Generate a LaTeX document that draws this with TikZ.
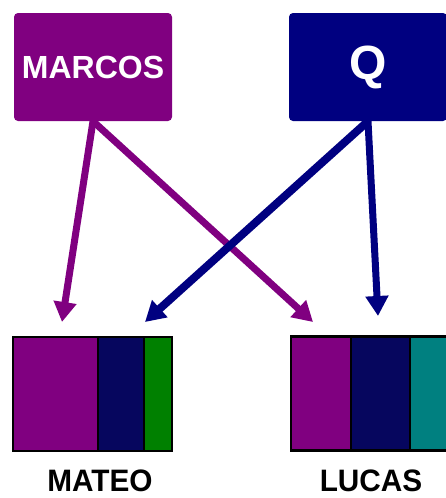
\documentclass[tikz,border=0pt]{standalone}
\usepackage{fontspec}
\setmainfont{Liberation Sans}
\usetikzlibrary{arrows.meta}
\definecolor{cpurple}{HTML}{800080}
\definecolor{cnavy}{HTML}{000080}
\definecolor{cdeep}{HTML}{06065E}
\definecolor{cgreen}{HTML}{008000}
\definecolor{cteal}{HTML}{008080}
\tikzset{
  srcbox/.style={rectangle, rounded corners=4pt, minimum width=158pt, minimum height=108pt, inner sep=0pt, text=white, font=\bfseries},
  link/.style={line width=7pt, -{Triangle[width=22pt,length=20pt]}},
  seg/.style={rectangle, draw=black, line width=2.5pt, inner sep=0pt, minimum height=114pt},
  caption/.style={anchor=base, font=\bfseries\fontsize{31}{36}\selectfont, inner sep=0pt, text depth=0pt, xscale=0.96}
}
\begin{document}
\begin{tikzpicture}[x=1pt, y=-1pt]
\useasboundingbox (0,0) rectangle (446,498);

% source boxes
\node[srcbox, fill=cpurple, font=\bfseries\fontsize{32}{36}\selectfont] (marcos) at (93,67) {MARCOS};
\node[srcbox, fill=cnavy, font=\bfseries\fontsize{48}{50}\selectfont] (q) at (368,67) {Q};

% arrow targets above the bars
\coordinate (mateoL) at (62,322);
\coordinate (mateoR) at (145,322);
\coordinate (lucasL) at (313,322);
\coordinate (lucasR) at (378,316);

% composition bars
\node[seg, fill=cpurple, minimum width=85pt] (m1) at (55.5,394) {};
\node[seg, fill=cdeep, minimum width=46pt] (m2) at (121,394) {};
\node[seg, fill=cgreen, minimum width=28pt] (m3) at (158,394) {};
\node[seg, fill=cpurple, minimum width=60pt] (l1) at (321,393.5) {};
\node[seg, fill=cdeep, minimum width=59pt] (l2) at (380.5,393.5) {};
\node[seg, fill=cteal, minimum width=40pt] (l3) at (430,393.5) {};

% connectors
\draw[link, cpurple] (marcos.south) -- (mateoL);
\draw[link, cpurple] (marcos.south) -- (lucasL);
\draw[link, cnavy, line width=8pt] (q.south) -- (mateoR);
\draw[link, cnavy] (q.south) -- (lucasR);

% captions
\node[caption] (mateo) at (100,491) {MATEO};
\node[caption] (lucas) at (371,491) {LUCAS};
\end{tikzpicture}
\end{document}
